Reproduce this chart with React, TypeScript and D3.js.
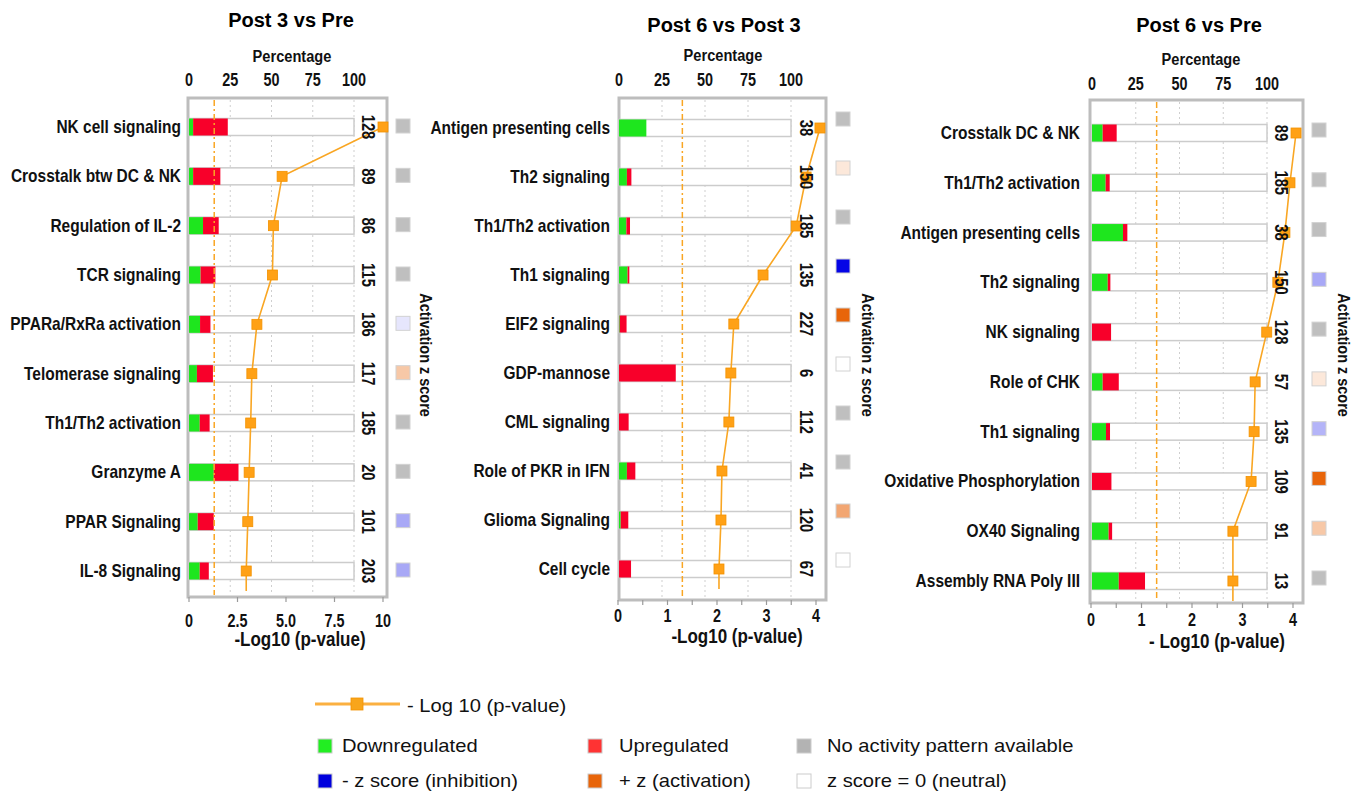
import React from "react";
import * as d3 from "d3";

// ---- data: Post 3 vs Pre
const p1Pathways = ["NK cell signaling", "Crosstalk btw DC & NK", "Regulation of IL-2", "TCR signaling", "PPARa/RxRa activation", "Telomerase signaling", "Th1/Th2 activation", "Granzyme A", "PPAR Signaling", "IL-8 Signaling"];
const p1Down = [2.5, 2.5, 8.5, 7, 6.7, 4.8, 6.5, 15, 5.3, 6.5];
const p1Up = [21, 16.5, 9.5, 9, 6.3, 9.7, 6, 15, 9.7, 5.5];
const p1LogP = [10.0, 4.8, 4.35, 4.3, 3.5, 3.24, 3.18, 3.1, 3.03, 2.95];
const p1Counts = [128, 89, 86, 115, 186, 117, 185, 20, 101, 203];
const p1Z = [null, null, null, null, -0.2, 0.72, null, null, -0.7, -0.7];

// ---- data: Post 6 vs Post 3
const p2Pathways = ["Antigen presenting cells", "Th2 signaling", "Th1/Th2 activation", "Th1 signaling", "EIF2 signaling", "GDP-mannose", "CML signaling", "Role of PKR in IFN", "Glioma Signaling", "Cell cycle"];
const p2Down = [15.9, 4.6, 4.3, 5, 0.4, 0, 0, 4.6, 1, 0];
const p2Up = [0, 2.6, 2.1, 1, 4, 33, 5.6, 4.9, 4.4, 7];
const p2LogP = [4.08, 3.8, 3.6, 2.93, 2.34, 2.28, 2.24, 2.1, 2.08, 2.04];
const p2Counts = [38, 150, 185, 135, 227, 6, 112, 41, 120, 67];
const p2Z = [null, 0.3, null, -2, 2, 0, null, null, 1.15, 0];

// ---- data: Post 6 vs Pre
const p3Pathways = ["Crosstalk DC & NK", "Th1/Th2 activation", "Antigen presenting cells", "Th2 signaling", "NK signaling", "Role of CHK", "Th1 signaling", "Oxidative Phosphorylation", "OX40 Signaling", "Assembly RNA Poly III"];
const p3Down = [6.1, 7.8, 17.7, 9, 0, 6.1, 8, 0, 9.5, 15.3];
const p3Up = [8, 2.3, 2.5, 1.5, 10.9, 9.2, 2.3, 11.1, 2, 15];
const p3LogP = [4.06, 3.94, 3.84, 3.7, 3.48, 3.25, 3.23, 3.17, 2.81, 2.81];
const p3Counts = [89, 185, 38, 150, 128, 57, 135, 109, 91, 13];
const p3Z = [null, null, null, -0.7, null, 0.3, -0.6, 2, 0.72, null];

const pctTicks = [0, 25, 50, 75, 100];
const threshold = 1.3;

const FONT = "'Liberation Sans', Arial, Helvetica, sans-serif";
const GREEN = "#1ee61e";
const RED = "#f8002a";
const ORANGE = "#f9a623";

const zColor = d3.scaleLinear<string>().domain([-2, 0, 2]).range(["#0505e6", "#ffffff", "#e8650a"]);

function NText({ x, y, rotate = 0, anchor = "start", size = 17, sx = 0.81, weight = "bold", children }: any) {
  return (
    <text
      transform={`translate(${x},${y}) rotate(${rotate}) scale(${sx},1)`}
      textAnchor={anchor}
      fontSize={size}
      fontWeight={weight}
      fontFamily={FONT}
      fill="#111"
    >
      {children}
    </text>
  );
}

const Panel = ({ cfg, pathways, down, up, logP, counts, z }: any) => {
  const pct = d3.scaleLinear().domain([0, 100]).range([cfg.pct0, cfg.pct100]);
  const xLog = d3.scaleLinear().domain(cfg.logDomain).range(cfg.logRange);
  const y = d3.scalePoint<string>().domain(pathways).range(cfg.rows);
  const barH = 17;

  const pts: [number, number][] = pathways.map((p: string, i: number) => [xLog(logP[i]), y(p)!]);
  const last = pts[pts.length - 1];
  const line = d3.line()([...pts, [last[0], last[1] + 20]]);

  return (
    <g>
      <text x={cfg.titleX} y={cfg.titleY} textAnchor="middle" fontSize={20} fontWeight="bold" fontFamily={FONT}>{cfg.title}</text>
      <NText x={cfg.pctLabelX} y={cfg.pctLabelY} anchor="middle" sx={0.86}>Percentage</NText>
      {pctTicks.map((t) => (
        <NText key={t} x={pct(t)} y={cfg.pctTickY} anchor="middle" size={18} sx={0.8}>{t}</NText>
      ))}

      {/* frame */}
      <rect x={cfg.frame[0]} y={cfg.frame[1]} width={cfg.frame[2] - cfg.frame[0]} height={cfg.frame[3] - cfg.frame[1]} fill="white" stroke="#bdbdbd" strokeWidth={3} />

      {/* percentage grid */}
      {pctTicks.slice(1).map((t) => (
        <line key={t} x1={pct(t)} x2={pct(t)} y1={cfg.frame[1] + 2} y2={cfg.frame[3] - 2} stroke="#cfcfcf" strokeDasharray="2,3" />
      ))}

      {/* bars */}
      {pathways.map((p: string, i: number) => (
        <g key={p}>
          <rect x={pct(0)} y={y(p)! - barH / 2} width={pct(100) - pct(0)} height={barH} fill="white" stroke="#cccccc" strokeWidth={1.5} />
          {down[i] > 0 && <rect x={pct(0)} y={y(p)! - barH / 2} width={pct(down[i]) - pct(0)} height={barH} fill={GREEN} />}
          {up[i] > 0 && <rect x={pct(down[i])} y={y(p)! - barH / 2} width={pct(up[i]) - pct(0)} height={barH} fill={RED} />}
        </g>
      ))}

      {/* threshold */}
      <line x1={xLog(threshold)} x2={xLog(threshold)} y1={cfg.frame[1] + 2} y2={cfg.frame[3] - 2} stroke={ORANGE} strokeWidth={1.5} strokeDasharray="6,3,2,3" />

      {/* -log10 p line */}
      <path d={line!} fill="none" stroke={ORANGE} strokeWidth={1.6} />
      {pts.map((d, i) => (
        <rect key={i} x={d[0] - 5} y={d[1] - 5} width={10} height={10} fill="#ffa116" stroke="#f39200" strokeWidth={0.8} />
      ))}

      {/* counts */}
      {pathways.map((p: string, i: number) => (
        <NText key={p} x={cfg.countX} y={y(p)} rotate={90} anchor="middle" size={18} sx={0.82}>{counts[i]}</NText>
      ))}

      {/* pathway labels */}
      {pathways.map((p: string) => (
        <NText key={p} x={cfg.labelX} y={y(p)! + 6} anchor="end" size={18} sx={0.86}>{p}</NText>
      ))}

      {/* z score squares */}
      {pathways.map((p: string, i: number) => (
        <rect key={p} x={cfg.zX} y={y(p)! + cfg.zOff - 7} width={14} height={14}
          fill={z[i] === null ? "#bfbfbf" : zColor(z[i])} stroke="#d2d2d2" strokeWidth={1} />
      ))}
      <NText x={cfg.actX} y={355} rotate={90} anchor="middle" sx={0.85}>Activation z score</NText>

      {/* bottom axis */}
      {cfg.bottomTicks.map((t: number) => (
        <line key={t} x1={xLog(t)} x2={xLog(t)} y1={cfg.frame[3]} y2={cfg.frame[3] + 5} stroke="#9a9a9a" strokeWidth={1.2} />
      ))}
      {cfg.bottomLabels.map((t: number, i: number) => (
        <NText key={t} x={xLog(t)} y={cfg.bottomTickY} anchor="middle" size={18} sx={0.8}>{cfg.bottomText[i]}</NText>
      ))}
      <NText x={cfg.bottomTitleX} y={cfg.bottomTitleY} anchor="middle" size={20} sx={0.85}>{cfg.bottomTitle}</NText>
    </g>
  );
};

const cfg1 = {
  title: "Post 3 vs Pre", titleX: 291, titleY: 27,
  pctLabelX: 292, pctLabelY: 62, pctTickY: 86,
  frame: [188, 98, 387, 597], pct0: 189, pct100: 354,
  logDomain: [0, 10], logRange: [189, 383], rows: [127, 571],
  labelX: 181, countX: 362, zX: 396, zOff: -1, actX: 420,
  bottomTicks: [0, 2.5, 5, 7.5, 10], bottomLabels: [0, 2.5, 5, 7.5, 10], bottomText: ["0", "2.5", "5.0", "7.5", "10"],
  bottomTickY: 627, bottomTitle: "-Log10 (p-value)", bottomTitleX: 300, bottomTitleY: 646,
};
const cfg2 = {
  title: "Post 6 vs Post 3", titleX: 724, titleY: 32,
  pctLabelX: 723, pctLabelY: 61, pctTickY: 86,
  frame: [619, 98, 826, 600], pct0: 619, pct100: 791,
  logDomain: [0, 4], logRange: [618, 816], rows: [128, 569],
  labelX: 610, countX: 800, zX: 836, zOff: -9, actX: 862,
  bottomTicks: d3.range(0, 4.01, 0.5), bottomLabels: [0, 1, 2, 3, 4], bottomText: ["0", "1", "2", "3", "4"],
  bottomTickY: 622, bottomTitle: "-Log10 (p-value)", bottomTitleX: 737, bottomTitleY: 643,
};
const cfg3 = {
  title: "Post 6 vs Pre", titleX: 1199, titleY: 32,
  pctLabelX: 1201, pctLabelY: 65, pctTickY: 90,
  frame: [1090, 100, 1303, 603], pct0: 1092, pct100: 1267,
  logDomain: [0, 4], logRange: [1091, 1293], rows: [133, 581],
  labelX: 1080, countX: 1275, zX: 1312, zOff: -3, actX: 1338,
  bottomTicks: d3.range(0, 4.01, 0.5), bottomLabels: [0, 1, 2, 3, 4], bottomText: ["0", "1", "2", "3", "4"],
  bottomTickY: 626, bottomTitle: "- Log10 (p-value)", bottomTitleX: 1217, bottomTitleY: 648,
};

const legendItems = [
  { label: "Downregulated", fill: "#22ee22", col: 0, row: 0 },
  { label: "Upregulated", fill: "#ff3333", col: 1, row: 0 },
  { label: "No activity pattern available", fill: "#b3b3b3", col: 2, row: 0 },
  { label: "- z score (inhibition)", fill: "#0000dd", col: 0, row: 1 },
  { label: "+ z (activation)", fill: "#e8650a", col: 1, row: 1 },
  { label: "z score = 0 (neutral)", fill: "#ffffff", col: 2, row: 1 },
];

const Legend = () => {
  const colX = [318, 588, 797];
  const textX = [342, 619, 827];
  const rowY = [746, 781];
  const LT = ({ x, y, children }: any) => (
    <text transform={`translate(${x},${y}) scale(1.12,1)`} fontSize={18} fontFamily={FONT} fill="#111">{children}</text>
  );
  return (
    <g>
      <line x1={315} x2={400} y1={704} y2={704} stroke="#fbb040" strokeWidth={3} />
      <rect x={351} y={698} width={12} height={12} fill="#f8a51b" stroke="#f39200" strokeWidth={0.8} />
      <LT x={407} y={712}>- Log 10 (p-value)</LT>
      {legendItems.map((d) => (
        <g key={d.label}>
          <rect x={colX[d.col]} y={rowY[d.row] - 7} width={14} height={14} fill={d.fill} stroke="#cccccc" strokeWidth={1} />
          <LT x={textX[d.col]} y={rowY[d.row] + 6}>{d.label}</LT>
        </g>
      ))}
    </g>
  );
};

export default function App() {
  return (
    <svg width={1356} height={792} style={{ position: "absolute", left: 0, top: 0, background: "white" }}>
      <Panel cfg={cfg1} pathways={p1Pathways} down={p1Down} up={p1Up} logP={p1LogP} counts={p1Counts} z={p1Z} />
      <Panel cfg={cfg2} pathways={p2Pathways} down={p2Down} up={p2Up} logP={p2LogP} counts={p2Counts} z={p2Z} />
      <Panel cfg={cfg3} pathways={p3Pathways} down={p3Down} up={p3Up} logP={p3LogP} counts={p3Counts} z={p3Z} />
      <Legend />
    </svg>
  );
}
